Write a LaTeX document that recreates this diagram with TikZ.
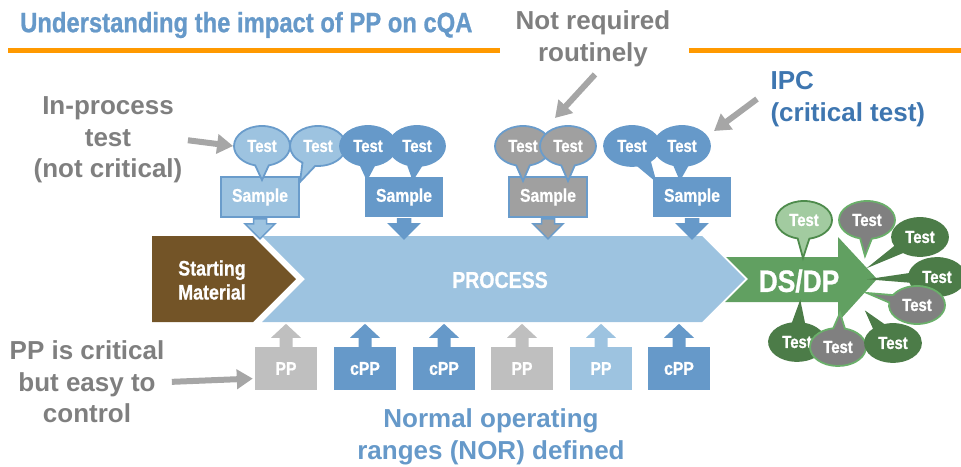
\documentclass[tikz,border=0pt]{standalone}
\usepackage{fontspec}
\setmainfont{Liberation Sans}
\newfontfamily\narrowfont[FakeStretch=0.85,FakeBold=0.8]{Liberation Sans Bold}
\usetikzlibrary{shapes.callouts,arrows.meta}

\definecolor{titleblue}{RGB}{102,153,201}
\definecolor{lightblue}{RGB}{157,195,224}
\definecolor{edgeblue}{RGB}{106,156,203}
\definecolor{midblue}{RGB}{102,153,201}
\definecolor{ipcblue}{RGB}{62,118,176}
\definecolor{notegray}{RGB}{127,127,127}
\definecolor{arrowgray}{RGB}{166,166,166}
\definecolor{testgray}{RGB}{160,160,160}
\definecolor{ppgray}{RGB}{191,191,191}
\definecolor{smbrown}{RGB}{115,84,39}
\definecolor{dsgreen}{RGB}{97,160,97}
\definecolor{darkgreen}{RGB}{76,124,72}
\definecolor{palegreen}{RGB}{162,203,160}
\definecolor{rimgreen}{RGB}{78,139,76}
\definecolor{brightgreen}{RGB}{106,175,106}
\definecolor{gtestgray}{RGB}{128,128,128}
\definecolor{rule}{RGB}{255,153,0}

\tikzset{
  testbub/.style={ellipse callout, callout pointer arc=28, minimum width=56pt,
    minimum height=40pt, inner sep=0pt, line width=1.8pt, text=white,
    font=\narrowfont\fontsize{17.5}{19}\selectfont},
  gtest/.style={testbub, minimum height=38pt, callout pointer arc=24},
  samplebox/.style={rectangle, minimum width=78pt, minimum height=40pt,
    inner sep=0pt, line width=1.8pt, text=white,
    font=\narrowfont\fontsize{18.5}{20}\selectfont},
  ppbox/.style={rectangle, minimum width=62pt, minimum height=43pt,
    inner sep=0pt, text=white,
    font=\narrowfont\fontsize{18.5}{20}\selectfont},
  note/.style={align=center, text=notegray,
    font=\bfseries\fontsize{26}{31.5}\selectfont},
  callarrow/.style={draw=arrowgray, line width=6pt,
    -{Triangle[length=16pt,width=19pt]}},
  whitetext/.style={text=white, align=center, font=\narrowfont}
}

\begin{document}
\begin{tikzpicture}[x=1pt,y=-1pt]
  \useasboundingbox (0,0) rectangle (961,466);

  % title and rule
  \node[anchor=west, text=titleblue, inner sep=0pt,
    font=\narrowfont\fontsize{28}{34}\selectfont] (title) at (20,25)
    {Understanding the impact of PP on cQA};
  \draw[rule, line width=5pt] (8,50) -- (500,50) (689,50) -- (961,50);

  % main flow
  \fill[dsgreen] (726,257) -- (838,257) -- (838,237) -- (877,279) -- (838,322)
    -- (838,302) -- (725,302) -- (748,279) -- cycle;
  \fill[smbrown] (152,236) -- (253,236) -- (296,279) -- (253,322) -- (152,322) -- cycle;
  \fill[lightblue] (262,236) -- (702,236) -- (745,279) -- (702,322) -- (262,322)
    -- (305,279) -- cycle;
  \node[whitetext, font=\narrowfont\fontsize{21}{24}\selectfont] (sm) at (212,280)
    {Starting\\Material};
  \node[whitetext, font=\narrowfont\fontsize{23}{26}\selectfont] (proc) at (500,280)
    {PROCESS};
  \node[whitetext, font=\narrowfont\fontsize{31}{34}\selectfont] (dsdp) at (799,281)
    {DS/DP};

  % samples
  \node[samplebox, fill=lightblue, draw=edgeblue] (s1) at (260,197) {Sample};
  \node[samplebox, fill=midblue] (s2) at (404,197) {Sample};
  \node[samplebox, fill=testgray, draw=edgeblue] (s3) at (548,197) {Sample};
  \node[samplebox, fill=midblue] (s4) at (692,197) {Sample};
  \foreach \n/\col/\rim in {1/lightblue/edgeblue, 2/midblue/midblue,
                            3/testgray/edgeblue, 4/midblue/midblue} {
    \filldraw[fill=\col, draw=\rim, line width=1.5pt, line join=miter] (s\n.south)
      ++(-6.5,1) -- ++(0,5) -- ++(-8.5,0) -- ++(15,15) -- ++(15,-15)
      -- ++(-8.5,0) -- ++(0,-5) -- cycle;
  }

  % in-process tests
  \node[testbub, fill=lightblue, draw=edgeblue,
    callout absolute pointer={(262,180)}] (t1) at (262,146) {Test};
  \node[testbub, fill=lightblue, draw=edgeblue,
    callout absolute pointer={(300,182)}] (t2) at (318,146) {Test};
  \node[testbub, fill=midblue, draw=midblue,
    callout absolute pointer={(367,179)}] (t3) at (368,146) {Test};
  \node[testbub, fill=midblue, draw=midblue,
    callout absolute pointer={(413,179)}] (t4) at (417,146) {Test};
  \node[testbub, fill=testgray, draw=edgeblue,
    callout absolute pointer={(523,181)}] (t5) at (523,146) {Test};
  \node[testbub, fill=testgray, draw=edgeblue,
    callout absolute pointer={(568,181)}] (t6) at (568,146) {Test};
  \node[testbub, fill=midblue, draw=midblue,
    callout absolute pointer={(655,180)}] (t7) at (632,146) {Test};
  \node[testbub, fill=midblue, draw=midblue,
    callout absolute pointer={(680,179)}] (t8) at (682,146) {Test};

  % release tests
  \node[gtest, fill=palegreen, draw=rimgreen,
    callout absolute pointer={(803,258)}] (g1) at (804,220) {Test};
  \node[gtest, fill=gtestgray, draw=brightgreen,
    callout absolute pointer={(865,256)}] (g2) at (867,220) {Test};
  \node[gtest, fill=darkgreen, draw=darkgreen,
    callout absolute pointer={(872,265)}] (g3) at (920,237) {Test};
  \node[gtest, fill=darkgreen, draw=darkgreen,
    callout absolute pointer={(875,279)}] (g4) at (937,277) {Test};
  \node[gtest, fill=gtestgray, draw=brightgreen,
    callout absolute pointer={(867,293)}] (g5) at (917,305) {Test};
  \node[gtest, fill=darkgreen, draw=darkgreen,
    callout absolute pointer={(800,303)}] (g6) at (797,342) {Test};
  \node[gtest, fill=gtestgray, draw=brightgreen,
    callout absolute pointer={(840,313)}] (g7) at (838,347) {Test};
  \node[gtest, fill=darkgreen, draw=darkgreen,
    callout absolute pointer={(867,313)}] (g8) at (893,343) {Test};

  % process parameters
  \foreach \n/\x/\col/\txt in {1/286/ppgray/PP, 2/365/midblue/cPP, 3/444/midblue/cPP,
                               4/522/ppgray/PP, 5/601/lightblue/PP, 6/679/midblue/cPP} {
    \node[ppbox, fill=\col] (p\n) at (\x,368.5) {\txt};
    \fill[\col] (p\n.north) ++(-6.5,0) -- ++(0,-9) -- ++(-8.5,0) -- ++(15,-14)
      -- ++(15,14) -- ++(-8.5,0) -- ++(0,9) -- cycle;
  }

  % notes
  \node[note] (ipt) at (108,140) {In-process\\test\\(not critical)};
  \node[note] (nr) at (593,39) {Not required\\routinely};
  \node[note, text=ipcblue, align=left, anchor=west] (ipc) at (767,99)
    {IPC\\(critical test)};
  \node[note] (pcc) at (87,382) {PP is critical\\but easy to\\control};
  \node[note, text=midblue] (nor) at (491,437) {Normal operating\\ranges (NOR) defined};

  \coordinate (nrtip) at (555,118);
  \coordinate (ipctip) at (714,131);
  \draw[callarrow, shorten <=2pt] (ipt.east) -- (t1.west);
  \draw[callarrow] ([xshift=2pt,yshift=-4pt]nr.south) -- (nrtip);
  \draw[callarrow] ([xshift=-10pt]ipc.west) -- (ipctip);
  \draw[callarrow, shorten <=4pt, shorten >=2pt] (pcc.east) -- ([yshift=-10pt]p1.west);
\end{tikzpicture}
\end{document}
